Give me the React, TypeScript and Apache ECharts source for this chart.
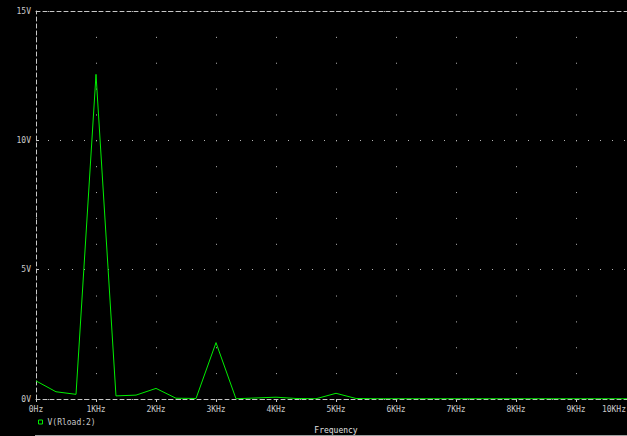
import React, { useEffect, useRef } from "react";
import * as echarts from "echarts";

const frequencies = [
  0, 333, 667, 1000, 1333, 1667, 2000, 2333, 2667, 3000, 3333, 3667, 4000, 4333,
  4667, 5000, 5333, 5667, 6000, 6333, 6667, 7000, 7333, 7667, 8000, 8333, 8667,
  9000, 9333, 9667, 10000,
];
const voltages = [
  0.7, 0.28, 0.18, 12.55, 0.12, 0.15, 0.41, 0.03, 0.02, 2.18, 0.01, 0.04, 0.07,
  0.02, 0.01, 0.22, 0.02, 0.01, 0.01, 0.01, 0.01, 0.01, 0.01, 0.01, 0.01, 0.01,
  0.01, 0.01, 0.01, 0.01, 0.01,
];
const seriesName = "V(Rload:2)";
const xAxisTitle = "Frequency";

const GRAY = "#c8c8c8";
const DOT = "#b4b4b4";
const GREEN = "#00ee00";
const FONT = "DejaVu Sans Mono";

export default function App() {
  const ref = useRef<HTMLDivElement>(null);
  useEffect(() => {
    if (!ref.current) return;
    const chart = echarts.init(ref.current, null, { renderer: "svg" });
    const data = frequencies.map((f, i) => [f, voltages[i]]);
    chart.setOption({
      animation: false,
      backgroundColor: "#000",
      grid: { left: 36, right: -9, top: 11, bottom: 37, containLabel: false, outerBoundsMode: "none" },
      legend: {
        show: true,
        left: 33,
        top: 413,
        icon: "rect",
        itemWidth: 4,
        itemHeight: 4,
        itemGap: 5,
        data: [
          {
            name: seriesName,
            itemStyle: { color: "#000", borderColor: GREEN, borderWidth: 1 },
          },
        ],
        textStyle: { color: GRAY, fontSize: 8, fontFamily: FONT },
      },
      xAxis: [
        {
          type: "value",
          min: 0,
          max: 10000,
          interval: 1000,
          position: "bottom",
          name: xAxisTitle,
          nameLocation: "middle",
          nameGap: 27,
          nameTextStyle: { color: "#e0e0e0", fontSize: 8, fontFamily: FONT },
          axisLine: { show: true, lineStyle: { color: GRAY, width: 1, type: [4, 3] } },
          axisTick: { show: true, inside: false, length: 3, lineStyle: { color: GRAY } },
          axisLabel: {
            color: GRAY,
            fontSize: 8,
            fontFamily: FONT,
            margin: 6,
            alignMaxLabel: "right",
            formatter: (v: number) =>
              v === 0 ? "0Hz" : v === 10000 ? `{last|${v / 1000}KHz}` : `${v / 1000}KHz`,
            rich: {
              last: { color: GRAY, fontSize: 8, fontFamily: FONT, padding: [0, 10, 0, 0] },
            },
          },
          splitLine: {
            show: true,
            lineStyle: { color: DOT, width: 1, type: [1, 24.867] },
          },
        },
        {
          type: "value",
          min: 0,
          max: 10000,
          interval: 1000,
          position: "top",
          axisLine: { show: true, onZero: false, lineStyle: { color: GRAY, width: 1, type: [4, 3] } },
          axisTick: { show: false },
          axisLabel: { show: false },
          splitLine: { show: false },
        },
      ],
      yAxis: {
        type: "value",
        min: 0,
        max: 15,
        interval: 5,
        axisLine: { show: true, onZero: false, lineStyle: { color: GRAY, width: 1, type: [4, 3] } },
        axisTick: { show: true, inside: true, length: 3, lineStyle: { color: GRAY } },
        axisLabel: {
          color: GRAY,
          fontSize: 8,
          fontFamily: FONT,
          margin: 5,
          formatter: (v: number) => `${v}V`,
        },
        splitLine: {
          show: true,
          lineStyle: { color: DOT, width: 1, type: [1, 11] },
        },
      },
      graphic: [
        {
          type: "line",
          shape: { x1: 35, y1: 435.5, x2: 627, y2: 435.5 },
          style: { stroke: "#a0a0a0", lineWidth: 1 },
          silent: true,
        },
      ],
      series: [
        {
          name: seriesName,
          type: "line",
          xAxisIndex: 0,
          data,
          symbol: "none",
          lineStyle: { color: GREEN, width: 1 },
          itemStyle: { color: GREEN },
        },
      ],
    });
    return () => chart.dispose();
  }, []);
  return (
    <div
      ref={ref}
      style={{ position: "absolute", left: 0, top: 0, width: 627, height: 436, background: "#000" }}
    />
  );
}
